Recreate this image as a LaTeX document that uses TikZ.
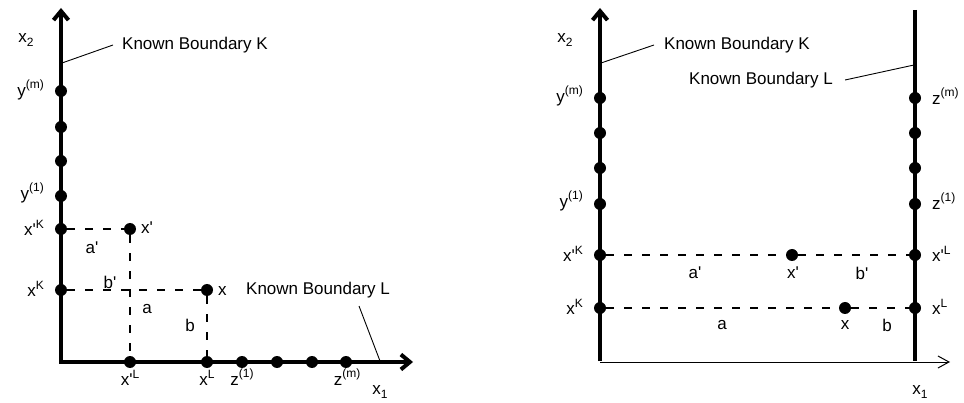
\documentclass[tikz,border=0pt]{standalone}
\usepackage{fontspec}
\setmainfont{Liberation Sans}[Ligatures=TeXOff]
\usetikzlibrary{arrows.meta}
\newcommand{\supx}[1]{\raisebox{0.45em}{\fontsize{12}{12}\selectfont #1}}
\newcommand{\subx}[1]{\raisebox{-0.28em}{\fontsize{12}{12}\selectfont #1}}
\begin{document}
\begin{tikzpicture}[x=1pt,y=-1pt,
  lbl/.style={font=\fontsize{17}{20}\selectfont, inner sep=0pt},
  dot/.style={circle, fill=black, minimum size=12pt, inner sep=0pt},
  axis/.style={line width=4pt},
  dline/.style={line width=2.5pt, dash pattern=on 8pt off 10pt},
  leader/.style={line width=0.9pt},
]
\useasboundingbox (0,0) rectangle (964,403);
% ---------- left panel ----------
\coordinate (LO) at (61,362);
\coordinate (LY) at (61,8);
\coordinate (LX) at (413,362);
\draw[axis, {Straight Barb[length=9pt,width=15pt]}-{Straight Barb[length=9pt,width=15pt]}] (LY) -- (LO) -- (LX);
\node[dot] (ym) at (61,91) {};
\node[dot] (k2) at (61,127) {};
\node[dot] (k3) at (61,161) {};
\node[dot] (y1) at (61,196) {};
\node[dot] (xpK) at (61,229) {};
\node[dot] (xK) at (61,290) {};
\node[dot] (xpL) at (130,362) {};
\node[dot] (xL) at (207,362) {};
\node[dot] (z1) at (242,362) {};
\node[dot] (l4) at (277,362) {};
\node[dot] (l5) at (312,362) {};
\node[dot] (zm) at (346,362) {};
\node[dot] (xp) at (130,229) {};
\node[dot] (xx) at (207,290) {};
\draw[dline] (xpK) -- (xp);
\draw[dline] (xp) -- (xpL);
\draw[dline] (xK) -- (xx);
\draw[dline] (xx) -- (xL);
\node[lbl] (lx2) at (26,40) {x\subx{2}};
\node[lbl, anchor=west] (kbk) at (122,45) {Known Boundary K};
\coordinate (kk) at (62,63);
\draw[leader] (kk) -- ([xshift=-9pt]kbk.west);
\node[lbl, anchor=east] (lym) at (44,90) {y\supx{(m)}};
\node[lbl, anchor=east] (ly1) at (44,193) {y\supx{(1)}};
\node[lbl, anchor=east] (lxpK) at (44,228) {x'\supx{K}};
\node[lbl, anchor=east] (lxK) at (44,289) {x\supx{K}};
\node[lbl, anchor=west] (lxp) at (141,228) {x'};
\node[lbl, anchor=west] (lxx) at (218,291) {x};
\node[lbl] (lap) at (92,248) {a'};
\node[lbl] (lbp) at (110,282) {b'};
\node[lbl] (la) at (147,309) {a};
\node[lbl] (lb) at (190,325) {b};
\node[lbl, anchor=west] (kbl) at (246,290) {Known Boundary L};
\coordinate (kl) at (380,361);
\coordinate (klend) at (359,306);
\draw[leader] (kl) -- (klend);
\node[lbl] (lxpL) at (130,378) {x'\supx{L}};
\node[lbl] (lxL) at (207,378) {x\supx{L}};
\node[lbl] (lz1) at (242,377) {z\supx{(1)}};
\node[lbl] (lzm) at (347,377) {z\supx{(m)}};
\node[lbl] (lx1) at (380,392) {x\subx{1}};
% ---------- right panel ----------
\coordinate (RO) at (600,362);
\coordinate (RY) at (600,8);
\coordinate (RT) at (915,10);
\coordinate (RB) at (915,362);
\coordinate (RX) at (950,362);
\draw[line width=1pt, -{Straight Barb[length=11pt,width=12pt]}] (RO) -- (RX);
\draw[axis, -{Straight Barb[length=9pt,width=15pt]}] ([yshift=1pt]RO) -- (RY);
\draw[axis] (RT) -- ([yshift=1pt]RB);
\node[dot] (rym) at (600,98) {};
\node[dot] (rk2) at (600,133) {};
\node[dot] (rk3) at (600,168) {};
\node[dot] (ry1) at (600,204) {};
\node[dot] (rxpK) at (600,255) {};
\node[dot] (rxK) at (600,308) {};
\node[dot] (rzm) at (915,98) {};
\node[dot] (rl2) at (915,133) {};
\node[dot] (rl3) at (915,168) {};
\node[dot] (rz1) at (915,204) {};
\node[dot] (rxpL) at (915,255) {};
\node[dot] (rxL) at (915,308) {};
\node[dot] (rxp) at (792,255) {};
\node[dot] (rxx) at (845,308) {};
\draw[dline] (rxpK) -- (rxp);
\draw[dline] (rxp) -- (rxpL);
\draw[dline] (rxK) -- (rxx);
\draw[dline] (rxx) -- (rxL);
\node[lbl] (rx2) at (565,40) {x\subx{2}};
\node[lbl, anchor=west] (rkbk) at (664,45) {Known Boundary K};
\coordinate (rkk) at (601,63);
\draw[leader] (rkk) -- ([xshift=-10pt]rkbk.west);
\node[lbl, anchor=west] (rkbl) at (689,80) {Known Boundary L};
\coordinate (rkl) at (914,65);
\draw[leader] (rkl) -- ([xshift=12pt]rkbl.east);
\node[lbl, anchor=east] (rlym) at (583,96) {y\supx{(m)}};
\node[lbl, anchor=east] (rly1) at (583,201) {y\supx{(1)}};
\node[lbl, anchor=east] (rlxpK) at (583,254) {x'\supx{K}};
\node[lbl, anchor=east] (rlxK) at (583,307) {x\supx{K}};
\node[lbl, anchor=west] (rlzm) at (932,96) {z\supx{(m)}};
\node[lbl, anchor=west] (rlz1) at (932,201) {z\supx{(1)}};
\node[lbl, anchor=west] (rlxpL) at (932,254) {x'\supx{L}};
\node[lbl, anchor=west] (rlxL) at (932,307) {x\supx{L}};
\node[lbl] (rlap) at (695,273) {a'};
\node[lbl] (rlxp) at (793,273) {x'};
\node[lbl] (rlbp) at (862,273) {b'};
\node[lbl] (rla) at (722,325) {a};
\node[lbl] (rlxx) at (845,325) {x};
\node[lbl] (rlb) at (887,325) {b};
\node[lbl] (rx1) at (920,392) {x\subx{1}};
\end{tikzpicture}
\end{document}
